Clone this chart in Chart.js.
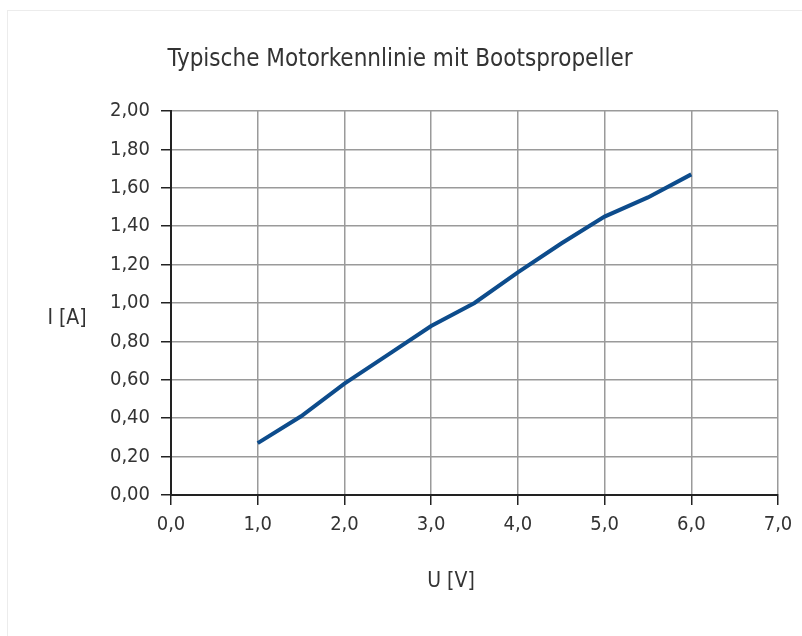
<!DOCTYPE html>
<html><head><meta charset="utf-8">
<script src="https://cdn.jsdelivr.net/npm/chart.js@4"></script>
<style>html,body{margin:0;padding:0;background:#fff}#wrap{width:802px;height:636px;position:relative}</style>
</head><body><div id="wrap"><canvas id="c" width="802" height="636"></canvas></div>
<script>
const voltages = [1.0, 1.5, 2.0, 2.5, 3.0, 3.5, 4.0, 4.5, 5.0, 5.5, 6.0];
const currents = [0.27, 0.41, 0.58, 0.73, 0.88, 1.00, 1.16, 1.31, 1.45, 1.55, 1.67];
const chartTitle = 'Typische Motorkennlinie mit Bootspropeller';
const xTitle = 'U [V]';
const yTitle = 'I [A]';
const FONT = "'DejaVu Sans Condensed', sans-serif";

const textPlugin = {
  id: 'texts',
  beforeDraw(chart) {
    const ctx = chart.ctx;
    ctx.save();
    ctx.strokeStyle = '#ececec';
    ctx.lineWidth = 1;
    ctx.strokeRect(7.5, 10.5, 800, 630);
    ctx.restore();
  },
  afterDraw(chart) {
    const ctx = chart.ctx;
    ctx.save();
    ctx.fillStyle = '#333';
    ctx.textAlign = 'center';
    ctx.textBaseline = 'middle';
    ctx.font = '24px ' + FONT;
    ctx.fillText(chartTitle, 400, 60);
    ctx.font = '21px ' + FONT;
    ctx.fillText(yTitle, 67, 319);
    ctx.fillText(xTitle, 451, 582);
    ctx.restore();
  }
};

new Chart(document.getElementById('c'), {
  type: 'line',
  data: {
    datasets: [{
      data: voltages.map((v, i) => ({x: v, y: currents[i]})),
      borderColor: '#0d4c8c',
      borderWidth: 4,
      pointRadius: 0,
      tension: 0,
      fill: false
    }]
  },
  options: {
    responsive: false,
    animation: false,
    layout: {padding: {left: 0, top: 111, right: 24, bottom: 0}},
    plugins: {legend: {display: false}, tooltip: {enabled: false}, title: {display: false}},
    scales: {
      x: {
        type: 'linear', min: 0, max: 7,
        afterFit: s => { s.height = 141; },
        ticks: {stepSize: 1, color: '#333', padding: 8, maxRotation: 0,
          font: {family: FONT, size: 20},
          callback: v => v.toFixed(1).replace('.', ',')},
        grid: {color: '#9a9a9a', lineWidth: 1.5, tickLength: 10, tickColor: '#222', tickWidth: 1.5},
        border: {color: '#222', width: 2}
      },
      y: {
        type: 'linear', min: 0, max: 2,
        afterFit: s => { s.width = 171; },
        ticks: {stepSize: 0.2, color: '#333', padding: 11,
          font: {family: FONT, size: 20},
          callback: v => v.toFixed(2).replace('.', ',')},
        grid: {color: '#9a9a9a', lineWidth: 1.5, tickLength: 10, tickColor: '#222', tickWidth: 1.5},
        border: {color: '#222', width: 2}
      }
    }
  },
  plugins: [textPlugin]
});
</script></body></html>
